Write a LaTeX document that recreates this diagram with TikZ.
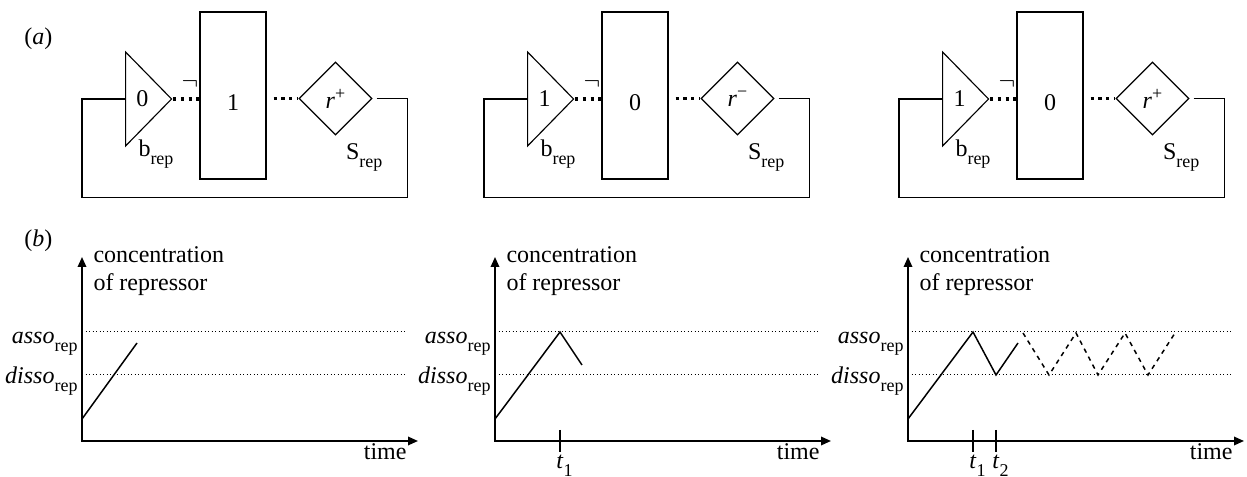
\documentclass[tikz,border=0pt]{standalone}
\usepackage{fontspec}
\setmainfont{Liberation Serif}
\usetikzlibrary{arrows.meta, calc, shapes.geometric}
\newcommand{\lowsub}[1]{\raisebox{-3pt}{\fontsize{7.2}{8}\selectfont #1}}
\newcommand{\upsign}[1]{\raisebox{3.6pt}{\fontsize{7.2}{8}\selectfont #1}}

\begin{document}
\begin{tikzpicture}[x=0.4pt, y=-0.4pt, >={Triangle[length=4pt, width=3.4pt]},
  every node/.style={font=\fontsize{9.6}{11.2}\selectfont, inner sep=0pt},
  gate/.style={draw, line width=0.45pt, isosceles triangle, isosceles triangle stretches, anchor=west, minimum width=37.6pt, minimum height=18.4pt},
  regbox/.style={draw, line width=0.45pt, minimum width=26.4pt, minimum height=66.8pt},
  switch/.style={draw, line width=0.45pt, diamond, minimum width=29.2pt, minimum height=29.2pt},
  link/.style={line width=1.3pt, dash pattern=on 1.3pt off 1.8pt},
  wire/.style={line width=0.45pt},
  axis/.style={line width=0.7pt},
  level/.style={line width=0.4pt, dash pattern=on 0.45pt off 0.95pt},
  trace/.style={line width=0.6pt}]
  \useasboundingbox (0,0) rectangle (1247,477);
  \node[anchor=base west] (lbla) at (24,45) {(\textit{a})};
  \node[anchor=base west] (lblb) at (24,247) {(\textit{b})};
  \foreach \i/\ox/\gv/\rv/\sg in {1/125/0/1/+, 2/527/1/0/−, 3/942/1/0/+} {
    \node[gate] (tri\i) at (\ox,99) {\gv};
    \node[regbox] (reg\i) at (\ox+108,95.5) {\raisebox{-6.2pt}[0pt][0pt]{\rv}};
    \node[switch] (sw\i) at (\ox+210.5,98.5) {\textit{r}\upsign{\sg}};
    \draw[link] (tri\i.apex) -- (tri\i.apex -| reg\i.west);
    \draw[link] ([xshift=2.8pt]reg\i.east |- sw\i.west) -- (sw\i.west);
    \draw[wire] ([xshift=1.6pt]sw\i.east) -- ++(31,0) -- ++(0,99) -| ($(tri\i.west)+(-43,0)$) -- (tri\i.west);
    \node (neg\i) at ($(tri\i.apex)+(17,-15)$) {$\neg$};
    \node[anchor=base west] (b\i) at ($(tri\i.west)+(13,58)$) {b\lowsub{rep}};
    \node[anchor=base west] (s\i) at ($(sw\i.south)+(10,24)$) {S\lowsub{rep}};
  }
  \foreach \p/\ox in {1/82, 2/495, 3/908} {
    \coordinate (o\p) at (\ox,441);
    \draw[axis, <->] ($(o\p)+(0,-184)$) -- (o\p) -- ++(336,0);
    \draw[level] ($(o\p)+(0,-109)$) -- ++(325,0);
    \draw[level] ($(o\p)+(0,-66)$) -- ++(325,0);
    \node[anchor=base east] (asso\p) at ($(o\p)+(-4,-97)$) {\textit{asso}\lowsub{rep}};
    \node[anchor=base east] (disso\p) at ($(o\p)+(-4,-57)$) {\textit{disso}\lowsub{rep}};
    \node[anchor=north west, align=left] (conc\p) at ($(o\p)+(11,-195)$) {concentration\\of repressor};
    \node[anchor=base east] (time\p) at ($(o\p)+(325,19)$) {time};
  }
  \draw[trace] ($(o1)+(0,-22)$) -- ++(55,-76);
  \draw[trace] ($(o2)+(0,-22)$) -- ++(65,-87) -- ++(22,33);
  \draw[trace] ($(o3)+(0,-22)$) -- ++(65,-87) -- ++(23,43) -- ++(22,-32);
  \draw[trace, dash pattern=on 1.8pt off 1.8pt] ($(o3)+(115,-108)$) -- ++(26,42) -- ++(27,-42) -- ++(22,42) -- ++(27,-42) -- ++(23,42) -- ++(27,-42);
  \draw[axis] ($(o2)+(65,-11)$) -- ++(0,22) node[anchor=north, xshift=1.8pt, yshift=-1pt] (ta2) {\textit{t}\lowsub{1}};
  \draw[axis] ($(o3)+(65,-11)$) -- ++(0,22) node[anchor=north, xshift=1.8pt, yshift=-1pt] (ta3) {\textit{t}\lowsub{1}};
  \draw[axis] ($(o3)+(88,-11)$) -- ++(0,22) node[anchor=north, xshift=1.8pt, yshift=-1pt] (tb3) {\textit{t}\lowsub{2}};
\end{tikzpicture}
\end{document}
